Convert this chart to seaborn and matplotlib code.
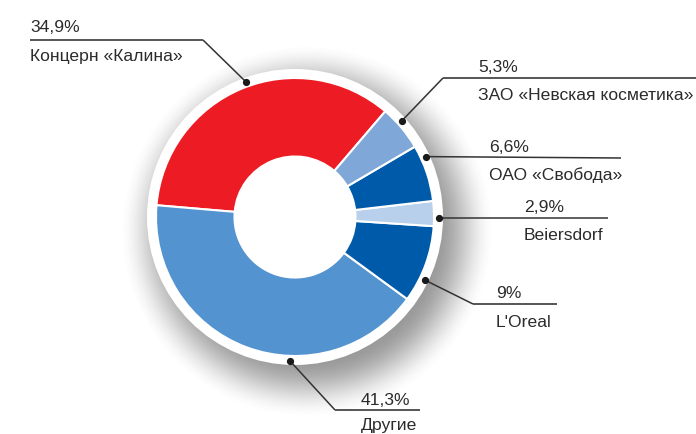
import numpy as np
import matplotlib
matplotlib.use("Agg")
import matplotlib.pyplot as plt
import seaborn as sns
from matplotlib.patches import Circle

sns.set_theme(style="white")
plt.rcParams['font.family'] = ['Liberation Sans', 'DejaVu Sans']

# ---- data ----
names = ['Концерн «Калина»', 'Другие', "L'Oreal", 'Beiersdorf',
         'ОАО «Свобода»', 'ЗАО «Невская косметика»']
shares = [34.9, 41.3, 9.0, 2.9, 6.6, 5.3]
pct_labels = ['34,9%', '41,3%', '9%', '2,9%', '6,6%', '5,3%']
colors = ['#ED1C24', '#5393D0', '#005AAA', '#B8D0EC', '#005AAA', '#7FA7D7']

W, H = 696, 435
def Y(y):
    return H - y

fig = plt.figure(figsize=(W / 100, H / 100), dpi=100)
ax = fig.add_axes([0, 0, 1, 1])

cx, cy = 295, Y(218)
R, r_in = 139, 60.5

# soft shadow
xs = np.arange(W) + 0.5
ys = np.arange(H) + 0.5
XX, YY = np.meshgrid(xs, ys)
d = np.hypot(XX - (cx + 12), YY - (cy - 14))
t = np.clip((188 - d) / 60.0, 0, 1)
alpha = 0.5 * t * t * (3 - 2 * t)
img = np.zeros((H, W, 4))
img[..., :3] = 0.2
img[..., 3] = alpha
ax.imshow(img, extent=(0, W, 0, H), origin='lower', zorder=0, interpolation='bilinear')

ax.add_patch(Circle((cx, cy), 148, facecolor='white', edgecolor='none', zorder=1))

wedges, _ = ax.pie(shares, colors=colors, startangle=49.5, counterclock=True,
                   center=(cx, cy), radius=R, frame=True,
                   wedgeprops=dict(width=R - r_in, edgecolor='white', linewidth=1.5))
for w in wedges:
    w.set_zorder(2)
ax.set_xlim(0, W)
ax.set_ylim(0, H)
ax.set_aspect('equal')
ax.axis('off')

# annotation layout (image coords)
dot_r = 144
layout = {
    0: dict(ang=110.0, path=[(203, 41), (30, 41)], tx=30, pb=32, nb=61),
    1: dict(ang=-92.0, path=[(335, 411), (420, 411)], tx=361, pb=405, nb=430),
    2: dict(ang=-25.9, path=[(473, 305), (557, 305)], tx=496, pb=298, nb=327),
    3: dict(ang=-0.4, path=[(608, 219)], tx=524, pb=212, nb=240),
    4: dict(ang=24.8, path=[(621, 159)], tx=489, pb=152, nb=180),
    5: dict(ang=42.0, path=[(443, 79), (700, 79)], tx=478, pb=72, nb=100),
}
tc = '#2b2b2b'
fs = 12.6
for i, L in layout.items():
    a = np.deg2rad(L['ang'])
    px, py = cx + dot_r * np.cos(a), cy + dot_r * np.sin(a)
    pts = [(px, py)] + [(x, Y(y)) for x, y in L['path']]
    xs_, ys_ = zip(*pts)
    ax.plot(xs_[:2], ys_[:2], color='#333333', lw=1.1, zorder=3, solid_capstyle='butt')
    if len(pts) > 2:
        ax.plot(xs_[1:], ys_[1:], color='#555555', lw=1.4, zorder=3, solid_capstyle='butt')
    ax.plot([px], [py], 'o', color='#1a1a1a', ms=4.2, zorder=4)
    ax.text(L['tx'], Y(L['pb']), pct_labels[i], fontsize=fs, color=tc, va='baseline', ha='left')
    ax.text(L['tx'], Y(L['nb']), names[i], fontsize=fs, color=tc, va='baseline', ha='left')

fig.savefig('out.png', dpi=100, facecolor='white')
